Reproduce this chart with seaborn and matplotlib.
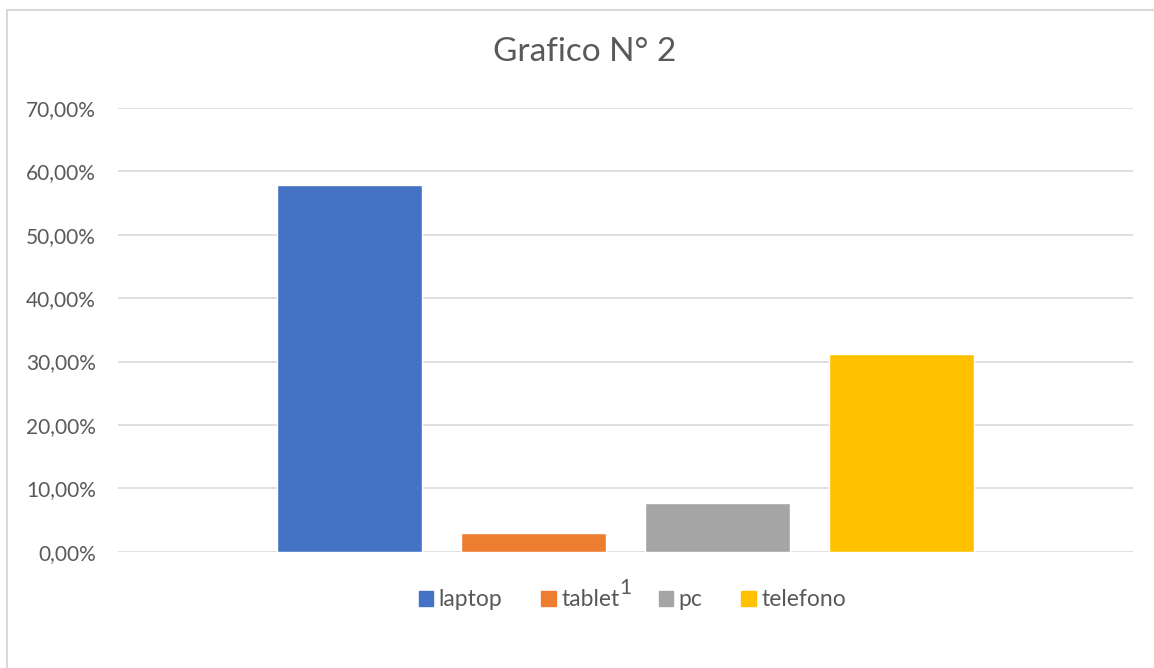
import matplotlib
matplotlib.use("Agg")
import matplotlib.pyplot as plt
import matplotlib.patches as mpatches
from matplotlib.ticker import FuncFormatter
import pandas as pd
import seaborn as sns

# data
categories = ["1"]
series = ["laptop", "tablet", "pc", "telefono"]
values = [0.578, 0.030, 0.077, 0.312]
colors = ["#4472C4", "#ED7D31", "#A5A5A5", "#FFC000"]
y_ticks = [0.0, 0.1, 0.2, 0.3, 0.4, 0.5, 0.6, 0.7]

df = pd.DataFrame(
    {"categoria": categories * len(series), "serie": series, "valor": values}
)

sns.set_theme(style="white")
plt.rcParams["font.family"] = ["Lato", "DejaVu Sans"]
text_color = "#595959"

fig = plt.figure(figsize=(11.54, 6.68), dpi=100)
ax = fig.add_axes([118 / 1154, 1 - 551.7 / 668, (1133 - 118) / 1154, (551.7 - 108) / 668])

sns.barplot(
    data=df,
    x="categoria",
    y="valor",
    hue="serie",
    hue_order=series,
    palette=colors,
    width=0.725,
    gap=0.21,
    saturation=1,
    ax=ax,
    legend=False,
    zorder=3,
)

ax.set_xlim(-0.5, 0.5)
ax.set_ylim(0, 0.7)
ax.set_yticks(y_ticks)
ax.yaxis.set_major_formatter(
    FuncFormatter(lambda v, _: f"{v * 100:.2f}%".replace(".", ","))
)
ax.grid(axis="y", color="#d9d9d9", linewidth=1.2, zorder=0)
ax.set_axisbelow(True)
for s in ax.spines.values():
    s.set_visible(False)
ax.tick_params(axis="y", length=0, pad=16, labelsize=15, labelcolor=text_color)
ax.tick_params(axis="x", length=0, pad=19, labelsize=15, labelcolor=text_color)
ax.set_xlabel("")
ax.set_ylabel("")

fig.text(0.507, 1 - 52 / 668, "Grafico N° 2", ha="center", va="center",
         fontsize=24, color=text_color)

handles = [mpatches.Patch(color=c, label=s) for s, c in zip(series, colors)]
fig.legend(
    handles=handles,
    loc="center",
    bbox_to_anchor=(0.548, 1 - 600 / 668),
    ncol=4,
    frameon=False,
    fontsize=16.5,
    labelcolor=text_color,
    handlelength=0.62,
    handleheight=0.62,
    handletextpad=0.25,
    columnspacing=1.7,
)

# outer chart border
fig.patches.append(
    mpatches.Rectangle((7 / 1154, -0.05), 1.1, 1 - 10 / 668 + 0.05,
                       transform=fig.transFigure, fill=False,
                       edgecolor="#d9d9d9", linewidth=1.5)
)

fig.savefig("out.png", dpi=100)
